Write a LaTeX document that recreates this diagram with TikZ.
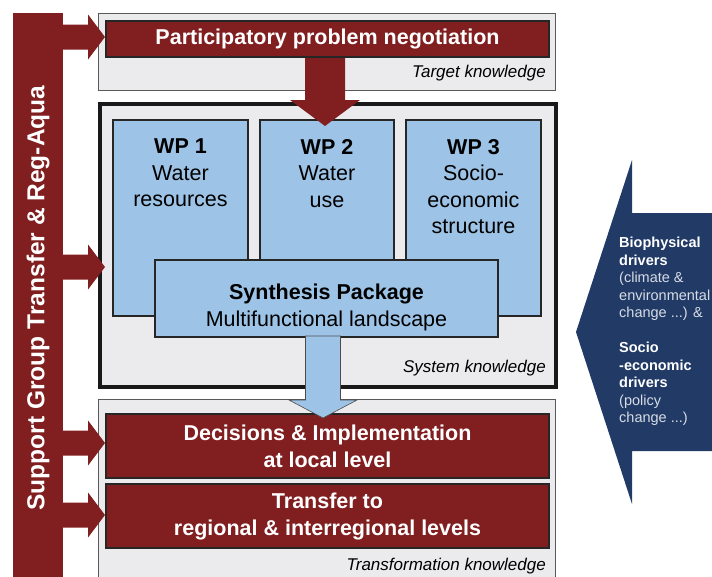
\documentclass[tikz,border=0pt]{standalone}
\usepackage{fontspec}
\setmainfont{Liberation Sans}
\definecolor{darkred}{RGB}{128,30,32}
\definecolor{wpblue}{RGB}{157,195,230}
\definecolor{panelgray}{RGB}{235,235,238}
\definecolor{navy}{RGB}{33,58,102}
\definecolor{lightgraytxt}{RGB}{215,220,230}
\begin{document}
\begin{tikzpicture}[x=1pt,y=-1pt,
  panel/.style={draw=black!65,line width=1.2pt,fill=panelgray},
  redbox/.style={draw=black!85,line width=2pt,fill=darkred,text=white,
    font=\bfseries\fontsize{21.5}{27}\selectfont,align=center,inner sep=0pt},
  wpbox/.style={draw=black!85,line width=2pt,fill=wpblue,align=center,
    font=\fontsize{21.5}{26.5}\selectfont,inner sep=0pt},
  wptext/.style={align=center,font=\fontsize{21.5}{26.5}\selectfont,inner sep=0pt},
  knowledge/.style={font=\itshape\fontsize{17}{18}\selectfont,anchor=east,inner sep=0pt},
  blockarrow/.style={fill=darkred},
]
\useasboundingbox (0,0) rectangle (712,576);
\fill[white] (0,0) rectangle (712,576);

% --- knowledge panels ---
\node[panel,minimum width=457pt,minimum height=77pt,anchor=north west,inner sep=0pt] (target) at (98,13) {};
\node[panel,draw=black!90,line width=4pt,minimum width=456pt,minimum height=283pt,anchor=north west,inner sep=0pt] (system) at (98,102) {};
\node[panel,minimum width=457pt,minimum height=190pt,anchor=north west,inner sep=0pt] (transf) at (98,399) {};

\node[knowledge] (tk) at (546,73) {Target knowledge};
\node[knowledge] (sk) at (546,368) {System knowledge};
\node[knowledge] (fk) at (546,566) {Transformation knowledge};

% --- red process boxes ---
\node[redbox,minimum width=443pt,minimum height=36pt,anchor=north west] (ppn) at (105,20) {Participatory problem negotiation};
\node[redbox,minimum width=443pt,minimum height=64pt,anchor=north west] (dec) at (105,413) {Decisions \& Implementation\\at local level};
\node[redbox,minimum width=443pt,minimum height=64pt,anchor=north west] (trn) at (105,483) {Transfer to\\regional \& interregional levels};

% --- work packages ---
\node[wpbox,minimum width=135pt,minimum height=196pt,anchor=north west] (wp1) at (112,119) {};
\node[wpbox,minimum width=134pt,minimum height=196pt,anchor=north west] (wp2) at (259,119) {};
\node[wpbox,minimum width=135pt,minimum height=196pt,anchor=north west] (wp3) at (405,119) {};
\node[wptext,anchor=north] (wp1t) at ([yshift=-20pt]wp1.north) {\textbf{WP 1}\\Water\\resources};
\node[wptext,anchor=north] (wp2t) at ([yshift=-20pt]wp2.north) {\textbf{WP 2}\\Water\\use};
\node[wptext,anchor=north] (wp3t) at ([yshift=-20pt]wp3.north) {\textbf{WP 3}\\Socio-\\economic\\structure};

\node[wpbox,minimum width=343pt,minimum height=77pt,anchor=north west] (syn) at (154,259) {};
\node[wptext] (synt) at ([yshift=-9pt]syn.center) {\textbf{Synthesis Package}\\Multifunctional landscape};

% --- support group bar and its arrows ---
\node[fill=darkred,minimum width=50pt,minimum height=580pt,anchor=north west,inner sep=0pt] (bar) at (13,13) {};
\node[rotate=90,text=white,font=\bfseries\fontsize{24.5}{26}\selectfont] (sgt) at (38,298) {Support Group Transfer \& Reg-Aqua};

\foreach \name/\yy in {a1/37,a2/267,a3/443,a4/515}{
  \coordinate (\name) at (105,\yy);
  \fill[blockarrow] (62,\yy-12.5) -- (88,\yy-12.5) -- (88,\yy-22.5) -- (\name)
    -- (88,\yy+22.5) -- (88,\yy+12.5) -- (62,\yy+12.5) -- cycle;
}

% --- arrow from problem negotiation down into WP 2 ---
\coordinate (rdtip) at (325,126);
\fill[blockarrow] ([xshift=-20pt]ppn.south -| rdtip) -- ([xshift=20pt]ppn.south -| rdtip)
  -- (345,100) -- (360,100) -- (rdtip) -- (290,100) -- (305,100) -- cycle;

% --- arrow from synthesis package down to decisions ---
\coordinate (bltip) at (323,418);
\draw[fill=wpblue,draw=black!70,line width=0.6pt] (305.5,336) -- (340.5,336) -- (340.5,400)
  -- (357,400) -- (bltip) -- (289,400) -- (305.5,400) -- cycle;

% --- external drivers arrow ---
\coordinate (drtip) at (576,332);
\fill[navy] (713,213) -- (632,213) -- (632,160) -- (drtip) -- (632,504) -- (632,451) -- (713,451) -- cycle;
\node[anchor=north west,align=left,inner sep=0pt,text=lightgraytxt,
  font=\fontsize{14.5}{17.5}\selectfont] (drv) at (619,237)
  {\textcolor{white}{\bfseries Biophysical}\\\textcolor{white}{\bfseries drivers}\\(climate \&\\environmental\\change ...) \&\\[17.5pt]
   \textcolor{white}{\bfseries Socio}\\\textcolor{white}{\bfseries -economic}\\\textcolor{white}{\bfseries drivers}\\(policy\\change ...)};
\end{tikzpicture}
\end{document}
